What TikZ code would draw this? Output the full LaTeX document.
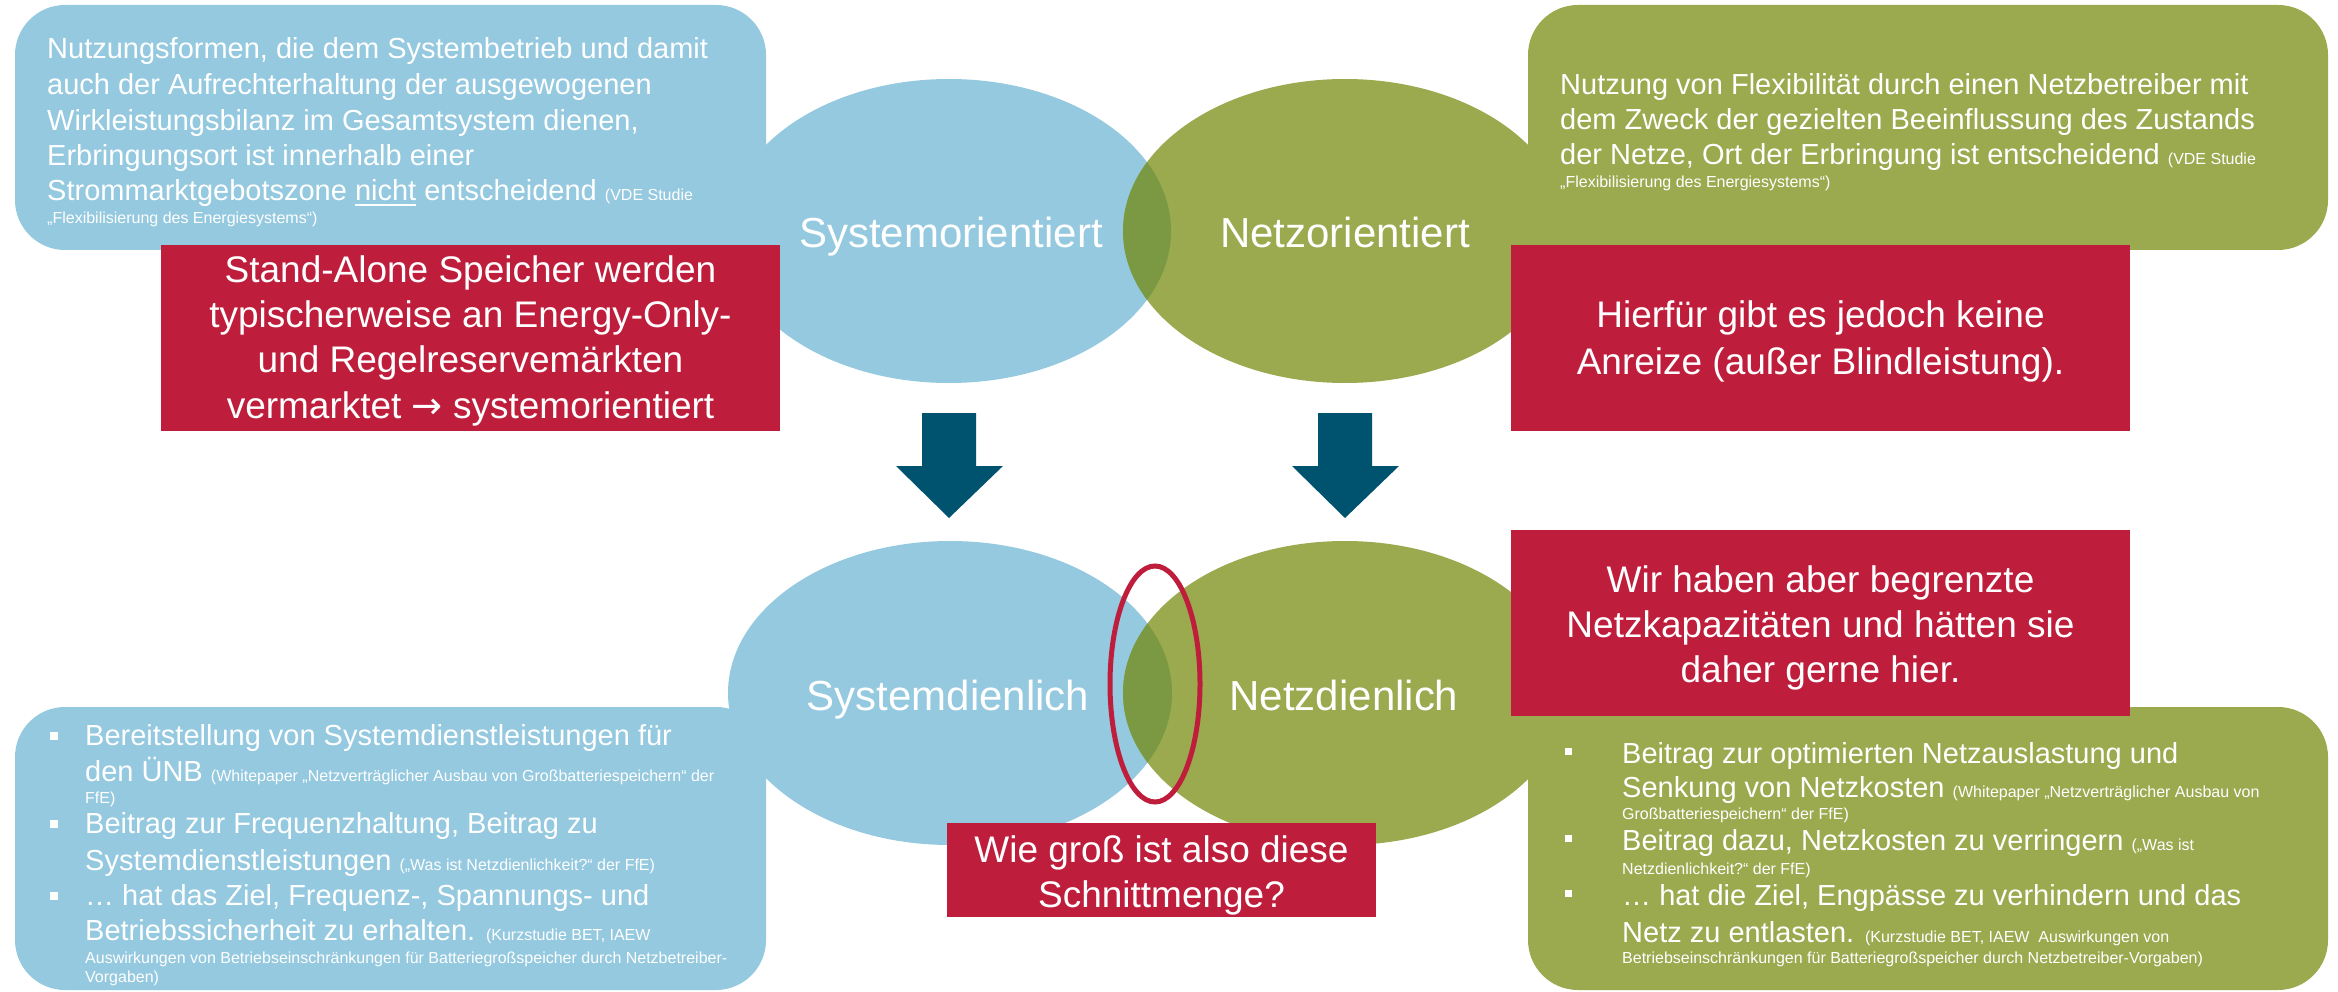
\documentclass[tikz,border=0pt]{standalone}
\usepackage{fontspec}
\setmainfont{Liberation Sans}
\newfontfamily\arrowfont{DejaVu Sans}
\usetikzlibrary{shapes.geometric}
\definecolor{cblue}{HTML}{94C9DF}
\definecolor{cgreen}{HTML}{9BA94F}
\definecolor{cover}{HTML}{7A9942}
\definecolor{cred}{HTML}{BE1E3C}
\definecolor{carrow}{HTML}{00536F}
\newcommand\myul[1]{\setbox0\hbox{#1}\rlap{\rule[-5pt]{\wd0}{2pt}}\box0\relax}
\begin{document}
\begin{tikzpicture}[x=1pt,y=-1pt,
  txt/.style={anchor=base west, inner sep=0pt, text=white, font=\fontsize{29}{35}\selectfont},
  sml/.style={anchor=base west, inner sep=0pt, text=white, font=\fontsize{16}{19}\selectfont},
  redtxt/.style={anchor=base, inner sep=0pt, text=white, font=\fontsize{37}{45}\selectfont},
  lbl/.style={anchor=base, inner sep=0pt, text=white, font=\fontsize{42}{50}\selectfont},
  callout/.style={rectangle, rounded corners=50pt, inner sep=0pt, draw=none},
  redbox/.style={rectangle, fill=cred, inner sep=0pt, draw=none},
  blob/.style={ellipse, inner sep=0pt, draw=none, minimum width=444pt, minimum height=304pt},
  bullet/.style={fill=white}
]
\useasboundingbox (0,0) rectangle (2338,992);
\fill[white] (0,0) rectangle (2338,992);

% callout boxes
\node[callout, fill=cblue, minimum width=751pt, minimum height=245pt] (cb1) at (390.5,127.5) {};
\node[callout, fill=cgreen, minimum width=800pt, minimum height=245pt] (cg1) at (1928,127.5) {};
\node[callout, fill=cblue, minimum width=751pt, minimum height=283pt] (cb2) at (390.5,848.5) {};
\node[callout, fill=cgreen, minimum width=800pt, minimum height=283pt] (cg2) at (1928,848.5) {};

% ellipses
\node[blob, fill=cblue] (e1) at (949,231) {};
\node[blob, fill=cgreen] (e2) at (1345,231) {};
\begin{scope}
  \clip (949,231) ellipse [x radius=222pt, y radius=152pt];
  \fill[cover] (1345,231) ellipse [x radius=222pt, y radius=152pt];
\end{scope}
\node[blob, fill=cblue] (e3) at (950,693) {};
\node[blob, fill=cgreen] (e4) at (1345,693) {};
\begin{scope}
  \clip (950,693) ellipse [x radius=222pt, y radius=152pt];
  \fill[cover] (1345,693) ellipse [x radius=222pt, y radius=152pt];
\end{scope}

% ellipse labels
\node[lbl] (t1) at (951,248) {Systemorientiert};
\node[lbl] (t2) at (1345,248) {Netzorientiert};
\node[lbl] (t3) at (948,710) {Systemdienlich};
\node[lbl] (t4) at (1344,710) {Netzdienlich};

% block arrows
\fill[carrow] (922,413) -- (976,413) -- (976,466) -- (1003,466) -- (949,518) -- (896,466) -- (922,466) -- cycle;
\fill[carrow] (1318,413) -- (1372,413) -- (1372,466) -- (1399,466) -- (1345,518) -- (1292,466) -- (1318,466) -- cycle;

% red ring
\node[ellipse, draw=cred, line width=5pt, inner sep=0pt, minimum width=90pt, minimum height=236pt] (ring) at (1155,684) {};

% red boxes
\node[redbox, minimum width=619pt, minimum height=186pt] (r1) at (470.5,338) {};
\node[redbox, minimum width=619pt, minimum height=186pt] (r2) at (1820.5,338) {};
\node[redbox, minimum width=619pt, minimum height=186pt] (r3) at (1820.5,623) {};
\node[redbox, minimum width=429pt, minimum height=94pt] (r4) at (1161.5,870) {};

\node[redtxt] (r1a) at (470.5,283) {Stand-Alone Speicher werden};
\node[redtxt] (r1b) at (470.5,328) {typischerweise an Energy-Only-};
\node[redtxt] (r1c) at (470.5,373) {und Regelreservemärkten};
\node[redtxt] (r1d) at (470.5,418) {vermarktet {\arrowfont →} systemorientiert};

\node[redtxt] (r2a) at (1820.5,328) {Hierfür gibt es jedoch keine};
\node[redtxt] (r2b) at (1820.5,374) {Anreize (außer Blindleistung).};

\node[redtxt] (r3a) at (1820.5,592) {Wir haben aber begrenzte};
\node[redtxt] (r3b) at (1820.5,637) {Netzkapazitäten und hätten sie};
\node[redtxt] (r3c) at (1820.5,682) {daher gerne hier.};

\node[redtxt] (r4a) at (1161.5,862) {Wie groß ist also diese};
\node[redtxt] (r4b) at (1161.5,907) {Schnittmenge?};

% top-left text
\node[txt] (a1) at (47,59) {Nutzungsformen, die dem Systembetrieb und damit};
\node[txt] (a2) at (47,95) {auch der Aufrechterhaltung der ausgewogenen};
\node[txt] (a3) at (47,131) {Wirkleistungsbilanz im Gesamtsystem dienen,};
\node[txt] (a4) at (47,166) {Erbringungsort ist innerhalb einer};
\node[txt] (a5) at (47,201) {Strommarktgebotszone \myul{nicht} entscheidend {\fontsize{16}{19}\selectfont (VDE Studie}};
\node[sml] (a6) at (47,224) {„Flexibilisierung des Energiesystems“)};

% top-right text
\node[txt] (b1) at (1560,95) {Nutzung von Flexibilität durch einen Netzbetreiber mit};
\node[txt] (b2) at (1560,130) {dem Zweck der gezielten Beeinflussung des Zustands};
\node[txt] (b3) at (1560,165) {der Netze, Ort der Erbringung ist entscheidend {\fontsize{16}{19}\selectfont (VDE Studie}};
\node[sml] (b4) at (1560,188) {„Flexibilisierung des Energiesystems“)};

% bottom-left bullets
\fill[bullet] (50,732) rectangle (58,740);
\fill[bullet] (50,820) rectangle (58,828);
\fill[bullet] (50,892) rectangle (58,900);
\node[txt] (c1) at (85,745) {Bereitstellung von Systemdienstleistungen für};
\node[txt] (c2) at (85,781) {den ÜNB {\fontsize{16}{19}\selectfont (Whitepaper „Netzverträglicher Ausbau von Großbatteriespeichern“ der}};
\node[sml] (c3) at (85,803) {FfE)};
\node[txt] (c4) at (85,833) {Beitrag zur Frequenzhaltung, Beitrag zu};
\node[txt] (c5) at (85,870) {Systemdienstleistungen {\fontsize{16}{19}\selectfont („Was ist Netzdienlichkeit?“ der FfE)}};
\node[txt] (c6) at (85,905) {… hat das Ziel, Frequenz-, Spannungs- und};
\node[txt] (c7) at (85,940) {Betriebssicherheit zu erhalten. {\fontsize{16}{19}\selectfont (Kurzstudie BET, IAEW}};
\node[sml] (c8) at (85,963) {Auswirkungen von Betriebseinschränkungen für Batteriegroßspeicher durch Netzbetreiber-};
\node[sml] (c9) at (85,982) {Vorgaben)};

% bottom-right bullets
\fill[bullet] (1565,748) rectangle (1572,755);
\fill[bullet] (1565,835) rectangle (1572,842);
\fill[bullet] (1565,890) rectangle (1572,897);
\node[txt] (d1) at (1622,763) {Beitrag zur optimierten Netzauslastung und};
\node[txt] (d2) at (1622,797) {Senkung von Netzkosten {\fontsize{16}{19}\selectfont (Whitepaper „Netzverträglicher Ausbau von}};
\node[sml] (d3) at (1622,819) {Großbatteriespeichern“ der FfE)};
\node[txt] (d4) at (1622,850) {Beitrag dazu, Netzkosten zu verringern {\fontsize{16}{19}\selectfont („Was ist}};
\node[sml] (d5) at (1622,874) {Netzdienlichkeit?“ der FfE)};
\node[txt] (d6) at (1622,905) {… hat die Ziel, Engpässe zu verhindern und das};
\node[txt] (d7) at (1622,942) {Netz zu entlasten. {\fontsize{16}{19}\selectfont (Kurzstudie BET, IAEW\ \ Auswirkungen von}};
\node[sml] (d8) at (1622,963) {Betriebseinschränkungen für Batteriegroßspeicher durch Netzbetreiber-Vorgaben)};
\end{tikzpicture}
\end{document}
